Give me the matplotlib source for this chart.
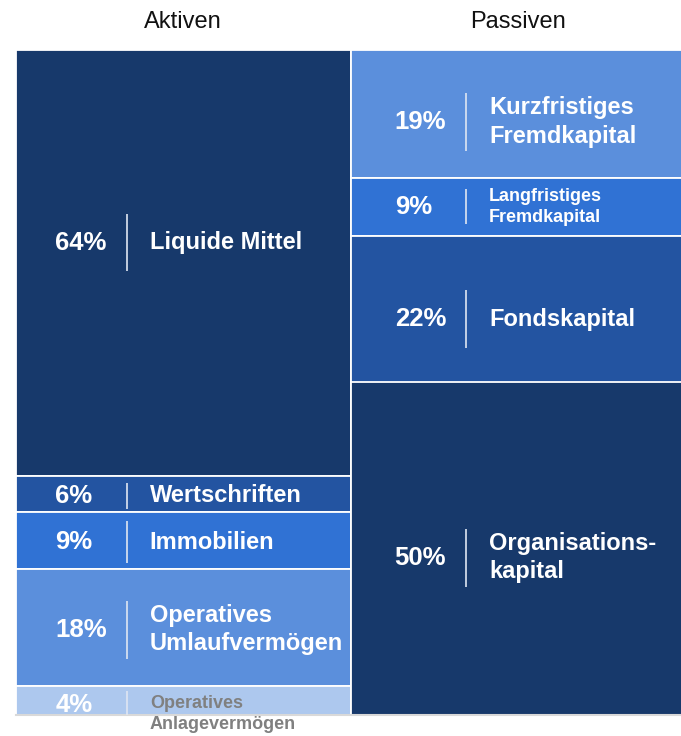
import numpy as np
import matplotlib
matplotlib.use("Agg")
import matplotlib.pyplot as plt

plt.rcParams['font.family'] = ['Liberation Sans', 'DejaVu Sans']

# data: share of total (bar heights) and the rounded labels shown
columns = ["Aktiven", "Passiven"]

akt_names  = ["Liquide Mittel", "Wertschriften", "Immobilien",
              "Operatives\nUmlaufvermögen", "Operatives\nAnlagevermögen"]
akt_values = [64.0, 5.5, 8.5, 17.7, 4.3]
akt_labels = ["64%", "6%", "9%", "18%", "4%"]

pas_names  = ["Kurzfristiges\nFremdkapital", "Langfristiges\nFremdkapital",
              "Fondskapital", "Organisations-\nkapital"]
pas_values = [19.2, 8.8, 22.0, 50.0]
pas_labels = ["19%", "9%", "22%", "50%"]

# styling per segment
akt_colors = ["#17396b", "#2354a1", "#3072d4", "#5b8fdc", "#adc8ee"]
pas_colors = ["#5b8fdc", "#3072d4", "#2354a1", "#17396b"]
akt_txtcol = ["white", "white", "white", "white", "#808080"]
pas_txtcol = ["white"] * 4
akt_size   = [17, 17, 17, 17, 13]
pas_size   = [17, 13, 17, 17]
akt_div_px = [57, 26, 42, 58, 28]
pas_div_px = [58, 35, 58, 58]
akt_dy_px  = [-20, 2, 2, 2, 4]        # vertical shift of label block
pas_dy_px  = [8, 0, 10, 9]
akt_ldy_px = [0, 0, 0, 0, 9]          # extra shift for name text only

W, H = 681, 736
fig = plt.figure(figsize=(W / 100, H / 100), dpi=100, facecolor="white")

top_px, bot_px = 50, 715
left_px, right_px = 16, 685
ax = fig.add_axes((left_px / W, (H - bot_px) / H,
                   (right_px - left_px) / W, (bot_px - top_px) / H))
ax.set_xlim(-0.5, 1.5)
ax.set_ylim(100, 0)
ax.axis("off")

px = 100 / (bot_px - top_px)   # data units per pixel (vertical)

col_cfg = [
    (akt_names, akt_values, akt_labels, akt_colors, akt_txtcol, akt_size,
     akt_div_px, akt_dy_px, akt_ldy_px, (0.117, 0.332, 0.40)),
    (pas_names, pas_values, pas_labels, pas_colors, pas_txtcol, pas_size,
     pas_div_px, pas_dy_px, [0] * 4, (0.132, 0.345, 0.414)),
]

for ci, (names, vals, labs, cols, tcols, sizes, divs, dys, ldys, offs) in enumerate(col_cfg):
    bottoms = np.concatenate([[0], np.cumsum(vals)[:-1]])
    ax.bar([ci] * len(vals), vals, bottom=bottoms, width=1.0, color=cols,
           edgecolor="white", linewidth=1.3, align="center", zorder=2)
    x0 = ci - 0.5
    for name, v, b, lab, tc, fs, dpx, dy, ldy in zip(names, vals, bottoms, labs,
                                                     tcols, sizes, divs, dys, ldys):
        yc = b + v / 2 + dy * px
        ax.text(x0 + offs[0], yc, lab, ha="left", va="center", color="white",
                fontsize=18.5, fontweight="bold", zorder=4)
        ax.vlines(x0 + offs[1], yc - dpx * px / 2, yc + dpx * px / 2,
                  color="#dfe6f2", lw=1.2, zorder=4)
        ax.text(x0 + offs[2], yc + ldy * px, name, ha="left", va="center", color=tc,
                fontsize=fs, fontweight="bold", linespacing=1.3, zorder=4)
    ax.text(ci, -28 * px, columns[ci], ha="center", va="center",
            fontsize=17, color="#111111")

# baseline
ax.axhline(100, color="#d9d9d9", lw=1.5, zorder=3, clip_on=False)

fig.savefig("out.png", dpi=100, facecolor="white")
